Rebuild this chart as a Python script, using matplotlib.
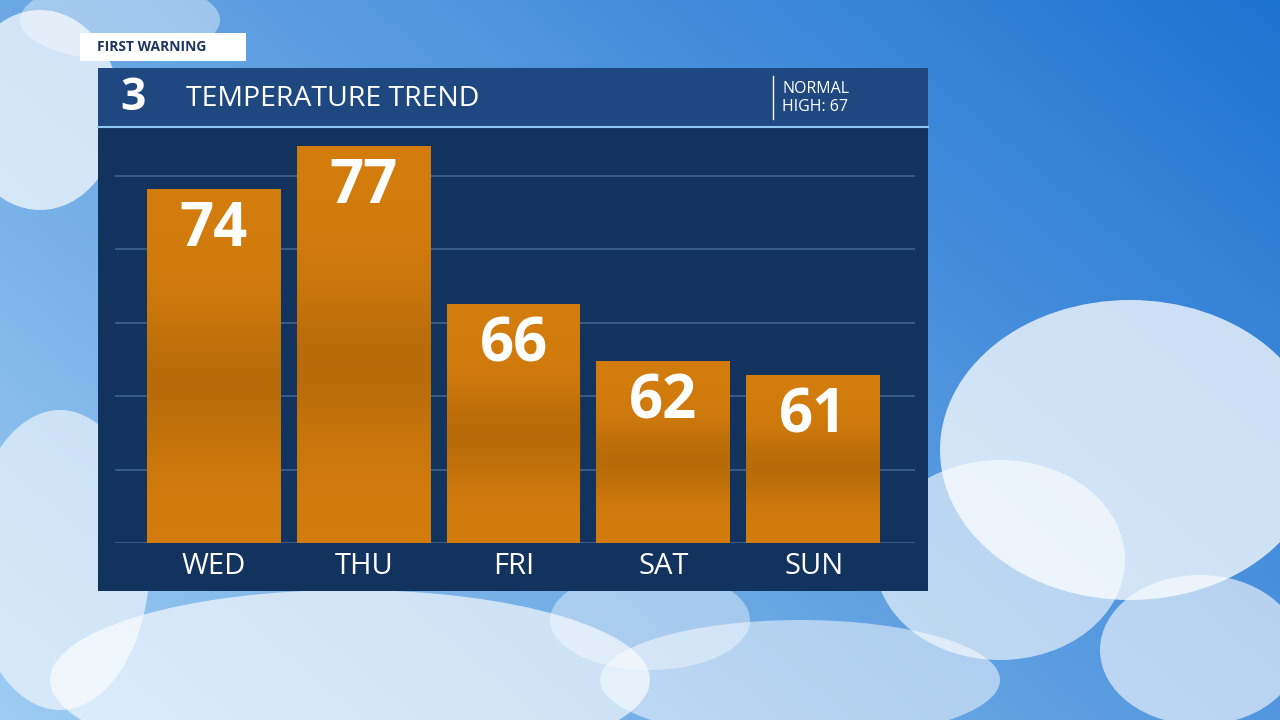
import numpy as np
import matplotlib
matplotlib.use("Agg")
import matplotlib.pyplot as plt
from matplotlib.patches import Rectangle, Ellipse

days = ["WED", "THU", "FRI", "SAT", "SUN"]
temps = [74, 77, 66, 62, 61]
title = "TEMPERATURE TREND"
normal_text = "NORMAL\nHIGH: 67"
tag = "FIRST WARNING"

W, H = 1280, 720
fig = plt.figure(figsize=(12.8, 7.2), dpi=100)
plt.rcParams['font.family'] = ['Open Sans', 'DejaVu Sans']

def px(x0, y0, x1, y1):
    return [x0 / W, 1 - y1 / H, (x1 - x0) / W, (y1 - y0) / H]

# sky background
bg = fig.add_axes([0, 0, 1, 1]); bg.set_axis_off()
bg.set_xlim(0, W); bg.set_ylim(H, 0)
yy, xx = np.mgrid[0:H, 0:W]
t = (xx / W * 0.6 + (1 - yy / H) * 0.4)
c0 = np.array([0.62, 0.80, 0.95]); c1 = np.array([0.12, 0.45, 0.82])
img = c0[None, None, :] * (1 - t[..., None]) + c1[None, None, :] * t[..., None]
bg.imshow(img, extent=(0, W, H, 0), aspect='auto')
for (cx, cy, w, h, a) in [(40, 110, 160, 200, 0.7), (1130, 450, 380, 300, 0.75), (1000, 560, 250, 200, 0.6),
                          (350, 680, 600, 180, 0.65), (60, 560, 180, 300, 0.6), (800, 680, 400, 120, 0.5),
                          (1200, 650, 200, 150, 0.6), (650, 620, 200, 100, 0.4), (120, 20, 200, 80, 0.4)]:
    bg.add_patch(Ellipse((cx, cy), w, h, color='white', alpha=a, lw=0))

# panel
bg.add_patch(Rectangle((98, 127), 830, 464, color='#13335f', lw=0))
bg.add_patch(Rectangle((98, 68), 830, 59, color='#1f4880', lw=0))
bg.plot([98, 928], [127, 127], color='#8fc8f0', lw=1.5)
bg.add_patch(Rectangle((80, 33), 166, 28, color='white', lw=0))
bg.text(97, 47, tag, fontsize=10, fontweight='bold', color='#1d3560', va='center')
bg.text(120, 99, "3", fontsize=32, fontweight='bold', color='white', va='center')
bg.text(186, 99, title, fontsize=20.5, color='white', va='center')
bg.plot([773, 773], [76, 119], color='white', lw=1)
bg.text(782, 98, normal_text, fontsize=11.5, color='white', va='center', linespacing=1.2)

# chart
ax = fig.add_axes(px(115, 146, 915, 543))
ax.set_facecolor('none')
x = np.arange(len(days))
base = 49.3
top = 77
for k in range(6):
    ax.axhline(base + k * (73.5 / (397 / (top - base))), color='#3f6390', lw=1.2, zorder=1)
bars = ax.bar(x, np.array(temps) - base, bottom=base, width=0.893, color='#d37c0e', zorder=2)
for b in bars:
    x0, y0 = b.get_x(), b.get_y(); w, h = b.get_width(), b.get_height()
    v = np.linspace(0, 1, 200)
    shade = 0.38 * np.exp(-((v - 0.45) / 0.2) ** 2)
    arr = np.zeros((200, 1, 4)); arr[..., 0] = 0.55; arr[..., 1] = 0.32; arr[..., 2] = 0.0
    arr[:, 0, 3] = shade
    im = ax.imshow(arr, extent=(x0, x0 + w, y0, y0 + h), origin='lower', aspect='auto', zorder=3)
    im.set_clip_path(b)
ax.set_xlim(-0.66, 4.68); ax.set_ylim(base, top)
for xi, v in zip(x, temps):
    ax.text(xi, v - 0.8, str(v), ha='center', va='top', fontsize=43, fontweight='bold', color='white', zorder=4)
ax.set_axis_off()
for xi, d in zip(x, days):
    bg.text(214 + 150 * xi, 567, d, ha='center', va='center', fontsize=21, color='white')

fig.savefig("out.png", dpi=100)
